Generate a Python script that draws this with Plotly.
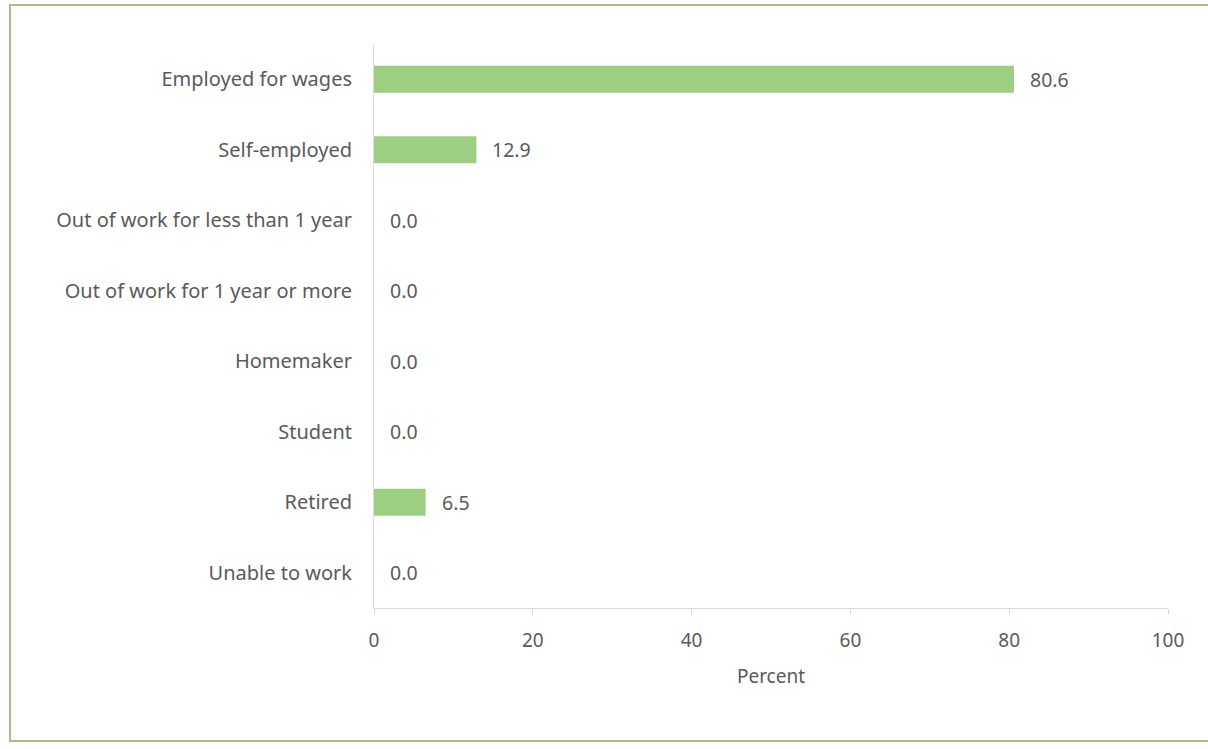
import plotly.graph_objects as go

categories = [
    "Employed for wages",
    "Self-employed",
    "Out of work for less than 1 year",
    "Out of work for 1 year or more",
    "Homemaker",
    "Student",
    "Retired",
    "Unable to work",
]
values = [80.6, 12.9, 0.0, 0.0, 0.0, 0.0, 6.5, 0.0]
x_ticks = [0, 20, 40, 60, 80, 100]

W, H = 1208, 749
ml, mr, mt, mb = 374, 40, 44, 141
pw, ph = W - ml - mr, H - mt - mb

def px_x(p):
    return (p - ml) / pw

def px_y(p):
    return (H - mb - p) / ph

fig = go.Figure()
fig.add_trace(go.Bar(
    x=values, y=categories, orientation="h",
    marker=dict(color="#9dcf83", line=dict(width=0)),
    hoverinfo="skip",
))

font_family = "Noto Sans, Open Sans, sans-serif"
txt = "#5a5a5a"
for v, c in zip(values, categories):
    fig.add_annotation(x=v, y=c, text=f"{v:.1f}", showarrow=False,
                       xanchor="left", xshift=14,
                       font=dict(size=19.5, color=txt, family=font_family))

fig.update_layout(
    width=W, height=H,
    margin=dict(l=ml, r=mr, t=mt, b=mb),
    paper_bgcolor="white", plot_bgcolor="white",
    bargap=0.62,
    showlegend=False,
    font=dict(family=font_family, size=19, color=txt),
    xaxis=dict(range=[0, 100], tickvals=x_ticks, showgrid=False, zeroline=False,
               showline=True, linecolor="#d9d9d9", linewidth=1,
               ticks="outside", ticklen=5, tickcolor="#d9d9d9",
               ticklabelstandoff=10,
               tickfont=dict(size=19, color=txt),
               title=dict(text="Percent", font=dict(size=19, color=txt), standoff=17)),
    yaxis=dict(categoryorder="array", categoryarray=categories[::-1],
               showgrid=False, zeroline=False, showline=True, linecolor="#d9d9d9",
               linewidth=1, ticks="outside", ticklen=0, ticklabelstandoff=17,
               tickfont=dict(size=20, color=txt)),
    shapes=[dict(type="rect", xref="paper", yref="paper",
                 x0=px_x(10), x1=px_x(1215), y0=px_y(741), y1=px_y(5),
                 line=dict(color="#a8bd8e", width=2), fillcolor="rgba(0,0,0,0)")],
)

fig.write_html("out.html", config={"displayModeBar": False},
               post_script="document.body.style.margin='0';document.body.style.overflow='hidden';")
